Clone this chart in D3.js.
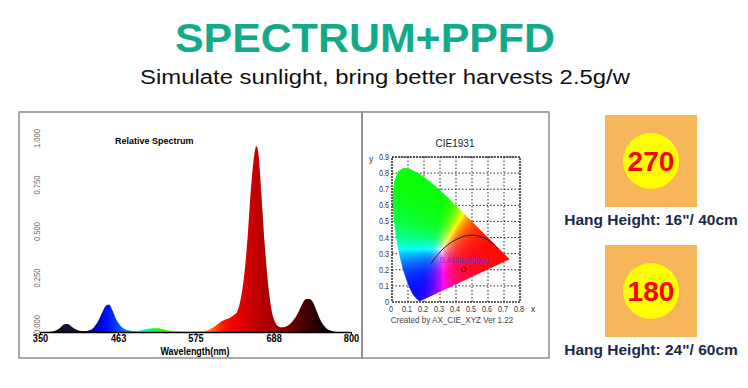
<!DOCTYPE html>
<html>
<head>
<meta charset="utf-8">
<script src="https://cdn.jsdelivr.net/npm/d3@7"></script>
<style>
  body { margin: 0; background: #fff; }
  svg { display: block; }
</style>
</head>
<body>
<svg id="chart" width="748" height="388"></svg>
<script>
// ---- data ----
var wavelengths = [350,355,360,365,370,375,380,385,390,395,400,405,410,415,420,425,430,435,440,445,450,455,460,465,470,475,480,485,490,495,500,505,510,515,520,525,530,535,540,545,550,555,560,565,570,575,580,585,590,595,600,605,610,615,620,625,630,635,640,645,650,655,660,663,666,670,675,680,685,690,695,700,705,710,715,720,725,730,735,740,745,750,755,760,765,770,775,780,790,800];
var intensity   = [0,0,0,0.001,0.004,0.012,0.026,0.041,0.043,0.031,0.017,0.009,0.005,0.005,0.008,0.015,0.035,0.065,0.105,0.14,0.148,0.115,0.07,0.04,0.022,0.012,0.008,0.006,0.006,0.008,0.012,0.016,0.019,0.02,0.02,0.018,0.014,0.01,0.007,0.005,0.004,0.003,0.003,0.003,0.003,0.003,0.004,0.005,0.008,0.014,0.024,0.036,0.05,0.062,0.07,0.077,0.09,0.108,0.17,0.29,0.49,0.76,0.95,1.0,0.96,0.76,0.48,0.26,0.12,0.055,0.03,0.025,0.028,0.038,0.055,0.08,0.115,0.155,0.177,0.178,0.16,0.115,0.07,0.038,0.018,0.008,0.003,0,0,0];
var spectrumTicks = [350,463,575,688,800];
var intensityTicks = [0,0.25,0.5,0.75,1];

// CIE 1931 spectral locus (x, y)
var locusX = [0.1741,0.1738,0.1733,0.1726,0.1714,0.1689,0.1644,0.1566,0.1440,0.1355,0.1241,0.1096,0.0913,0.0687,0.0454,0.0235,0.0082,0.0039,0.0139,0.0389,0.0743,0.1142,0.1547,0.1929,0.2296,0.2658,0.3016,0.3373,0.3731,0.4087,0.4441,0.4788,0.5125,0.5448,0.5752,0.6029,0.6270,0.6482,0.6658,0.6915,0.7079,0.7190,0.7260,0.7300,0.7334,0.7347];
var locusY = [0.0050,0.0049,0.0048,0.0048,0.0051,0.0069,0.0109,0.0177,0.0297,0.0399,0.0578,0.0868,0.1327,0.2007,0.2950,0.4127,0.5384,0.6548,0.7502,0.8120,0.8338,0.8262,0.8059,0.7816,0.7543,0.7243,0.6923,0.6589,0.6245,0.5896,0.5547,0.5202,0.4866,0.4544,0.4242,0.3965,0.3725,0.3514,0.3340,0.3083,0.2920,0.2809,0.2740,0.2700,0.2666,0.2653];
// black-body curve as drawn
var planckX = [0.242,0.264,0.281,0.306,0.345,0.381,0.437,0.477,0.527,0.586,0.625,0.664];
var planckY = [0.234,0.267,0.288,0.317,0.352,0.377,0.404,0.414,0.413,0.393,0.367,0.330];
var chromaPoint = [0.4483, 0.2026];
var cieXTicks = [0,0.1,0.2,0.3,0.4,0.5,0.6,0.7,0.8];
var cieYTicks = [0,0.1,0.2,0.3,0.4,0.5,0.6,0.7,0.8,0.9];

var ppfdValues = [270, 180];
var hangLabels = ['Hang Height: 16"/ 40cm', 'Hang Height: 24"/ 60cm'];

var svg = d3.select("#chart");
var defs = svg.append("defs");
var sans = "'Liberation Sans',Arial,sans-serif";

// squeezed text, the source uses a narrow face
function narrowText(parent, x, y, sx) {
  return parent.append("g").attr("transform", "translate(" + x + "," + y + ") scale(" + sx + ",1)")
    .append("text").attr("font-family", sans);
}

// ---- header ----
svg.append("text").attr("x", 365).attr("y", 52).attr("text-anchor", "middle")
  .attr("font-family", sans).attr("font-weight", "bold").attr("font-size", 41)
  .attr("fill", "#13aa8b").attr("textLength", 380).attr("lengthAdjust", "spacingAndGlyphs")
  .text("SPECTRUM+PPFD");
svg.append("text").attr("x", 385).attr("y", 84).attr("text-anchor", "middle")
  .attr("font-family", sans).attr("font-size", 20).attr("fill", "#111")
  .attr("textLength", 490).attr("lengthAdjust", "spacingAndGlyphs")
  .text("Simulate sunlight, bring better harvests 2.5g/w");

// ---- panels ----
svg.append("rect").attr("x", 19).attr("y", 112).attr("width", 343).attr("height", 246)
  .attr("fill", "none").attr("stroke", "#8c8c8c").attr("stroke-width", 1.5);
svg.append("rect").attr("x", 362).attr("y", 112).attr("width", 187).attr("height", 246)
  .attr("fill", "none").attr("stroke", "#8c8c8c").attr("stroke-width", 1.5);

// ---- relative spectrum ----
var x = d3.scaleLinear().domain([350, 800]).range([40, 351]);
var y = d3.scaleLinear().domain([0, 1]).range([332, 146]);

var stops = [[360,"#000000"],[388,"#121230"],[410,"#10104a"],[430,"#0000b4"],[448,"#0010ff"],[466,"#0058ff"],[480,"#00a8ff"],[492,"#00eeff"],[504,"#00ffb0"],[515,"#00ff30"],[532,"#30ff00"],[552,"#b0ff00"],[570,"#ffff00"],[585,"#ffc000"],[600,"#ff6400"],[614,"#ff1800"],[630,"#f00000"],[660,"#c40000"],[690,"#a00000"],[712,"#6e0000"],[738,"#3c0000"],[770,"#000000"]];
var grad = defs.append("linearGradient").attr("id", "spec")
  .attr("gradientUnits", "userSpaceOnUse")
  .attr("x1", x(350)).attr("x2", x(800)).attr("y1", 0).attr("y2", 0);
grad.selectAll("stop").data(stops).join("stop")
  .attr("offset", function(d) { return (d[0] - 350) / 450; })
  .attr("stop-color", function(d) { return d[1]; });

var area = d3.area()
  .x(function(d) { return x(d[0]); })
  .y0(y(0))
  .y1(function(d) { return y(d[1]); })
  .curve(d3.curveMonotoneX);
svg.append("path").datum(d3.zip(wavelengths, intensity))
  .attr("d", area).attr("fill", "url(#spec)");

var xAxis = svg.append("g").attr("transform", "translate(0," + y(0) + ")")
  .call(d3.axisBottom(x).tickValues(spectrumTicks).tickSize(2).tickSizeOuter(0).tickFormat(d3.format("d")));
xAxis.select(".domain").attr("stroke", "#000").attr("stroke-width", 1.3);
xAxis.selectAll("text").attr("font-family", sans).attr("font-weight", "bold")
  .attr("font-size", 11.5).attr("fill", "#000").attr("y", 2)
  .attr("transform", "scale(0.8,1)");

narrowText(svg, 195, 354.5, 0.85).attr("text-anchor", "middle")
  .attr("font-weight", "bold").attr("font-size", 10.5).text("Wavelength(nm)");

intensityTicks.forEach(function(v) {
  svg.append("text")
    .attr("transform", "translate(40," + (y(v) + 2) + ") rotate(-90) scale(0.85,1)")
    .attr("font-family", sans).attr("font-size", 9).attr("fill", "#6a6a6a")
    .text(d3.format(".3f")(v));
});

svg.append("text").attr("x", 115).attr("y", 144)
  .attr("font-family", sans).attr("font-weight", "bold").attr("font-size", 9)
  .text("Relative Spectrum");

// ---- CIE 1931 ----
var cx = d3.scaleLinear().domain([0, 0.8]).range([392, 520]);
var cy = d3.scaleLinear().domain([0, 0.9]).range([302, 157]);

svg.append("text").attr("x", 455).attr("y", 147).attr("text-anchor", "middle")
  .attr("font-family", sans).attr("font-size", 10).attr("fill", "#222").text("CIE1931");

var grid = svg.append("g").attr("stroke", "#222").attr("stroke-width", 1).attr("stroke-dasharray", "1.5,2");
grid.selectAll("line.v").data(cieXTicks.slice(1, -1)).join("line").attr("class", "v")
  .attr("x1", cx).attr("x2", cx).attr("y1", cy(0)).attr("y2", cy(0.9));
grid.selectAll("line.h").data(cieYTicks.slice(1)).join("line").attr("class", "h")
  .attr("x1", cx(0)).attr("x2", cx(0.8)).attr("y1", cy).attr("y2", cy);

var locusPts = d3.zip(locusX, locusY).map(function(p) { return [cx(p[0]), cy(p[1])]; });
defs.append("clipPath").attr("id", "locus").append("path")
  .attr("d", d3.line()(locusPts) + "Z");

function chromaColor(px, py) {
  var yy = Math.max(py, 0.002);
  var X = px / yy, Y = 1, Z = (1 - px - yy) / yy;
  var r = 3.2406 * X - 1.5372 * Y - 0.4986 * Z;
  var g = -0.9689 * X + 1.8758 * Y + 0.0415 * Z;
  var b = 0.0557 * X - 0.2040 * Y + 1.0570 * Z;
  r = Math.max(r, 0); g = Math.max(g, 0); b = Math.max(b, 0);
  var m = Math.max(r, g, b) || 1;
  function sat(c) { return Math.round(255 * Math.pow(c / m, 1.6)); }
  return "rgb(" + sat(r) + "," + sat(g) + "," + sat(b) + ")";
}
var cells = [];
for (var i = cx(0); i < cx(0.75); i += 1) {
  for (var j = cy(0.85); j < cy(0); j += 1) {
    cells.push([i, j, chromaColor(cx.invert(i + 0.5), cy.invert(j + 0.5))]);
  }
}
svg.append("g").attr("clip-path", "url(#locus)")
  .selectAll("rect").data(cells).join("rect")
  .attr("x", function(d) { return d[0]; }).attr("y", function(d) { return d[1]; })
  .attr("width", 1.05).attr("height", 1.05)
  .attr("fill", function(d) { return d[2]; });

svg.append("path").datum(d3.zip(planckX, planckY))
  .attr("d", d3.line().x(function(d) { return cx(d[0]); }).y(function(d) { return cy(d[1]); }).curve(d3.curveCatmullRom))
  .attr("fill", "none").attr("stroke", "#222").attr("stroke-width", 1);

svg.append("circle").attr("cx", cx(chromaPoint[0])).attr("cy", cy(chromaPoint[1])).attr("r", 2.3)
  .attr("fill", "none").attr("stroke", "#222").attr("stroke-width", 1);
narrowText(svg, 440, 263, 0.85).attr("font-size", 9).attr("fill", "#5a38e8")
  .text(chromaPoint.join(","));

svg.append("rect").attr("x", cx(0)).attr("y", cy(0.9)).attr("width", cx(0.8) - cx(0)).attr("height", cy(0) - cy(0.9))
  .attr("fill", "none").attr("stroke", "#333").attr("stroke-width", 1.6).attr("stroke-dasharray", "2,1");

var fmt = function(d) { return d === 0 ? "0" : d3.format(".1f")(d); };
cieYTicks.forEach(function(v) {
  narrowText(svg, 389, cy(v) + 3, 0.85).attr("text-anchor", "end")
    .attr("font-size", 8.5).attr("fill", "#333").text(fmt(v));
});
cieXTicks.forEach(function(v) {
  narrowText(svg, cx(v) - 1, 312, 0.85).attr("text-anchor", "middle")
    .attr("font-size", 8.5).attr("fill", "#333").text(fmt(v));
});
svg.append("text").attr("x", 371).attr("y", 162).attr("text-anchor", "middle")
  .attr("font-family", sans).attr("font-size", 8.5).attr("fill", "#333").text("y");
svg.append("text").attr("x", 533).attr("y", 312).attr("text-anchor", "middle")
  .attr("font-family", sans).attr("font-size", 8.5).attr("fill", "#333").text("x");
narrowText(svg, 452, 323, 0.9).attr("text-anchor", "middle")
  .attr("font-size", 9).attr("fill", "#444")
  .text("Created by AX_CIE_XYZ Ver 1.22");

// ---- PPFD boxes ----
var box = svg.selectAll("g.ppfd").data(ppfdValues).join("g").attr("class", "ppfd")
  .attr("transform", function(d, i) { return "translate(651," + (161 + i * 130) + ")"; });
box.append("rect").attr("x", -46).attr("y", -46).attr("width", 92).attr("height", 92).attr("fill", "#f8b65a");
box.append("circle").attr("r", 28).attr("fill", "#ffff00");
box.append("text").attr("y", 9.5).attr("text-anchor", "middle")
  .attr("font-family", sans).attr("font-weight", "bold").attr("font-size", 27)
  .attr("fill", "#ff0000").attr("textLength", 47).attr("lengthAdjust", "spacingAndGlyphs")
  .text(function(d) { return d; });
box.append("text").attr("y", 64).attr("text-anchor", "middle")
  .attr("font-family", sans).attr("font-weight", "bold").attr("font-size", 15.5)
  .attr("fill", "#1b2a48")
  .text(function(d, i) { return hangLabels[i]; });
</script>
</body>
</html>
